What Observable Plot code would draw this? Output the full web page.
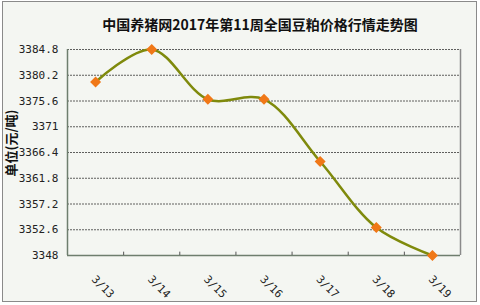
<!DOCTYPE html>
<html><head><meta charset="utf-8">
<script src="https://cdn.jsdelivr.net/npm/d3@7"></script>
<script src="https://cdn.jsdelivr.net/npm/@observablehq/plot@0.6"></script>
<style>
body{margin:0;background:#fff;}
#wrap{position:relative;width:480px;height:305px;overflow:hidden;background:#fff;}
#box{position:absolute;left:2px;top:1px;width:473px;height:299px;border:1px solid #8a8a8a;background:#f4f6f2;}
#title{position:absolute;left:0;width:520px;top:14px;text-align:center;font:bold 14px "Noto Sans CJK SC",sans-serif;color:#111;}
#ylab{position:absolute;left:10px;top:143px;transform:translate(-50%,-50%) rotate(-90deg);white-space:nowrap;font:bold 13px "Noto Sans CJK SC",sans-serif;color:#111;}
#chart{position:absolute;left:0;top:0;}
</style></head>
<body><div id="wrap"><div id="box"></div><div id="chart"></div><div id="title">中国养猪网2017年第11周全国豆粕价格行情走势图</div><div id="ylab">单位(元/吨)</div></div>
<script>
const dates = ["3/13","3/14","3/15","3/16","3/17","3/18","3/19"];
const prices = [3379, 3384.8, 3375.9, 3375.9, 3364.8, 3353, 3348];
const yTicks = [3348, 3352.6, 3357.2, 3361.8, 3366.4, 3371, 3375.6, 3380.2, 3384.8];
const yTickLabels = ["3348","3352.6","3357.2","3361.8","3366.4","3371","3375.6","3380.2","3384.8"];

const data = dates.map((d,i)=>({i, d, v: prices[i]}));
const bounds = d3.range(1, dates.length).map(k => k - 0.5);

const chart = Plot.plot({
  width: 480, height: 305,
  marginLeft: 67, marginRight: 20, marginTop: 49, marginBottom: 50,
  style: {background: "transparent", overflow: "visible"},
  x: {domain: [-0.5, dates.length - 0.5], axis: null},
  y: {domain: [3348, 3384.8], axis: null},
  marks: [
    Plot.ruleY(yTicks.slice(1), {stroke: "#444", strokeWidth: 1, strokeDasharray: "2,1", strokeOpacity: 0.85}),
    Plot.ruleX([-0.5], {stroke: "#6e7e6e", strokeWidth: 1.5}),
    Plot.ruleX([dates.length - 0.5], {stroke: "#8a8a8a", strokeWidth: 1.5}),
    Plot.ruleY([3348], {stroke: "#6e7e6e", strokeWidth: 1.5}),
    Plot.ruleX(bounds, {x: d => d, y1: 3348, y2: 3348.6, stroke: "#555", strokeWidth: 1}),
    Plot.text(yTicks, {x: -0.5, y: d => d, text: (d,i) => yTickLabels[i], textAnchor: "end", dx: -9, fontSize: 11, fontFamily: "DejaVu Sans Mono, monospace", fill: "#222"}),
    Plot.text(data, {x: "i", y: 3348, text: "d", textAnchor: "start", rotate: 45, dx: -2, dy: 22, fontSize: 11, fontFamily: "DejaVu Sans Mono, monospace", fill: "#222"}),
    Plot.line(data, {x: "i", y: "v", curve: "catmull-rom", stroke: "#7f8a0c", strokeWidth: 2.5}),
    Plot.dot(data, {x: "i", y: "v", symbol: "diamond2", r: 4, fill: "#f07818", stroke: "#f07818"})
  ]
});
document.getElementById("chart").appendChild(chart);
</script></body></html>
